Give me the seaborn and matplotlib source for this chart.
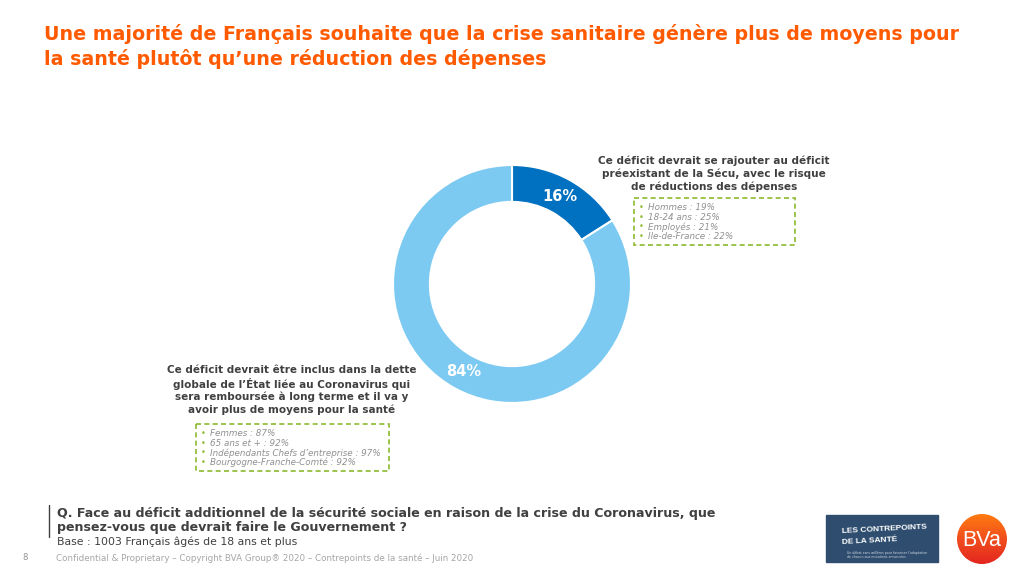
import numpy as np
import matplotlib.pyplot as plt
import seaborn as sns
from matplotlib.colors import LinearSegmentedColormap
from matplotlib.patches import Circle, Rectangle

# values
labels = ["Ajout au déficit de la Sécu", "Dette globale de l'État"]
values = [16, 84]
colors = sns.color_palette(["#0070c0", "#7ccaf2"])

title = ("Une majorité de Français souhaite que la crise sanitaire génère plus de moyens pour\n"
         "la santé plutôt qu’une réduction des dépenses")
label_right = ("Ce déficit devrait se rajouter au déficit\n"
               "préexistant de la Sécu, avec le risque\n"
               "de réductions des dépenses")
label_left = ("Ce déficit devrait être inclus dans la dette\n"
              "globale de l’État liée au Coronavirus qui\n"
              "sera remboursée à long terme et il va y\n"
              "avoir plus de moyens pour la santé")
items_right = ["Hommes : 19%", "18-24 ans : 25%", "Employés : 21%", "Ile-de-France : 22%"]
items_left = ["Femmes : 87%", "65 ans et + : 92%", "Indépendants Chefs d’entreprise : 97%",
              "Bourgogne-Franche-Comté : 92%"]
question = ("Q. Face au déficit additionnel de la sécurité sociale en raison de la crise du Coronavirus, que\n"
            "pensez-vous que devrait faire le Gouvernement ?")
base = "Base : 1003 Français âgés de 18 ans et plus"
footer = "Confidential & Proprietary – Copyright BVA Group® 2020 – Contrepoints de la santé – Juin 2020"

sns.set_theme(style="white")
plt.rcParams['font.family'] = ['DejaVu Sans']

W, H = 1024, 576
fig = plt.figure(figsize=(W / 100, H / 100), dpi=100)

# overlay in pixel coordinates
ax = fig.add_axes([0, 0, 1, 1])
ax.axis("off")

# donut
cx, cy, r = 512, 284, 119
pie_ax = fig.add_axes([(cx - r) / W, 1 - (cy + r) / H, 2 * r / W, 2 * r / H])
wedges, _, autotexts = pie_ax.pie(values, colors=colors, startangle=90, counterclock=False,
                                  radius=1, autopct="%d%%", pctdistance=0.84,
                                  wedgeprops=dict(width=0.31, edgecolor="white", linewidth=1.5),
                                  textprops=dict(color="white", fontweight="bold", fontsize=10.5))
pie_ax.set_xlim(-1, 1)
pie_ax.set_ylim(-1, 1)

ax.text(44, 34, title.split("\n")[0], color="#ff5a00", fontsize=13.7, fontweight="bold", va="center")
ax.text(44, 59, title.split("\n")[1], color="#ff5a00", fontsize=13.7, fontweight="bold", va="center")

ax.text(714, 174, label_right, ha="center", va="center", fontsize=7.6, fontweight="bold",
        color="#404040", linespacing=1.3)
ax.text(292, 390, label_left, ha="center", va="center", fontsize=7.5, fontweight="bold",
        color="#404040", linespacing=1.25)


def dashed_box(x0, y0, x1, y1, items):
    ax.add_patch(Rectangle((x0, y0), x1 - x0, y1 - y0, fill=False, edgecolor="#8db92e",
                           linewidth=1.2, linestyle=(0, (3, 2))))
    step = (y1 - y0 - 8) / len(items)
    for i, item in enumerate(items):
        y = y0 + 4.5 + step * (i + 0.5)
        ax.text(x0 + 7, y, "•", color="#8db92e", fontsize=6, va="center", ha="center")
        ax.text(x0 + 14, y, item, color="#909090", fontsize=6.35, fontstyle="italic", va="center")


dashed_box(634, 198, 795, 245, items_right)
dashed_box(196, 424, 389, 471, items_left)

# question block
ax.plot([49, 49], [505, 537], color="#404040", linewidth=1)
ax.text(57, 513, question.split("\n")[0], fontsize=9.1, fontweight="bold", color="#404040", va="center")
ax.text(57, 528, question.split("\n")[1], fontsize=9.1, fontweight="bold", color="#404040", va="center")
ax.text(57, 542, base, fontsize=7.8, color="#404040", va="center")
ax.text(22, 558, "8", fontsize=6, color="#909090", va="center")
ax.text(56, 558, footer, fontsize=6.33, color="#a6a6a6", va="center")

# logos
ax.add_patch(Rectangle((826, 515), 112, 47, color="#2f4e6f"))
ax.text(842, 529, "LES CONTREPOINTS", color="white", fontsize=6.0, fontweight="bold", va="center",
        family="Liberation Sans", rotation=3)
ax.text(842, 541, "DE LA SANTÉ", color="white", fontsize=6.0, fontweight="bold", va="center",
        family="Liberation Sans", rotation=3)
ax.text(847, 553, "Un débat sans œillères pour favoriser l’adaptation", color="#c8d2dc", fontsize=2.3,
        va="center")
ax.text(847, 557, "de chacun aux mutations annoncées", color="#c8d2dc", fontsize=2.3, va="center")

grad = LinearSegmentedColormap.from_list("bva", ["#ff7a10", "#f04e1e", "#e4261e"])
img = ax.imshow(np.linspace(0, 1, 64).reshape(-1, 1), cmap=grad, extent=(957, 1007, 564, 514), aspect="auto")
img.set_clip_path(Circle((982, 539), 25, transform=ax.transData))
ax.text(982, 540, "BVa", color="white", fontsize=15.5, ha="center", va="center", family="Liberation Sans")

ax.set_xlim(0, W)
ax.set_ylim(H, 0)

fig.savefig("out.png", dpi=100)
